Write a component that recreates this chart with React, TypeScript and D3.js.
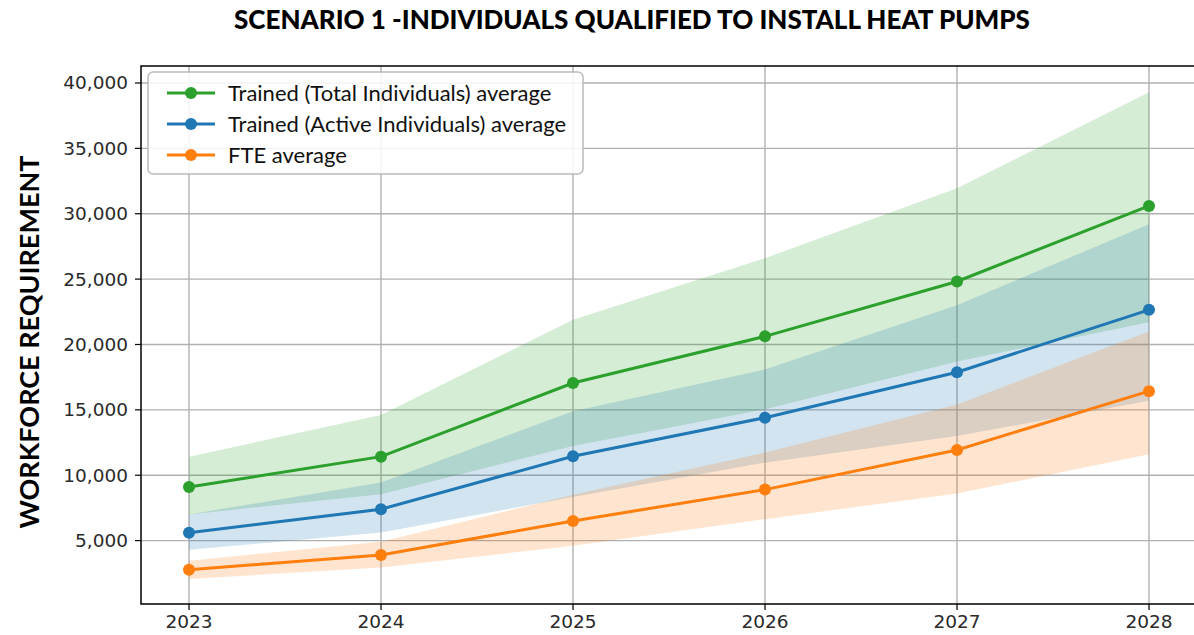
import React, { useRef, useEffect } from "react";
import { select, scaleLinear, line, area, format } from "d3";

// years on the x axis
const years = [2023, 2024, 2025, 2026, 2027, 2028];

// series averages
const totalAvg = [9100, 11420, 17050, 20620, 24820, 30600];
const activeAvg = [5600, 7400, 11450, 14400, 17880, 22650];
const fteAvg = [2770, 3900, 6500, 8900, 11930, 16430];

// band bounds (low / high)
const totalLow = [7000, 8550, 12240, 15040, 18700, 21700];
const totalHigh = [11420, 14600, 21900, 26600, 31950, 39300];
const activeLow = [4300, 5620, 8330, 10960, 13000, 15700];
const activeHigh = [7000, 9440, 14900, 18090, 23000, 29200];
const fteLow = [2060, 2950, 4600, 6640, 8600, 11600];
const fteHigh = [3460, 4910, 8500, 11730, 15400, 21000];

const yTicks = [5000, 10000, 15000, 20000, 25000, 30000, 35000, 40000];

const seriesList = [
  { name: "Trained (Total Individuals) average", color: "#2ca02c", avg: totalAvg, low: totalLow, high: totalHigh },
  { name: "Trained (Active Individuals) average", color: "#1f77b4", avg: activeAvg, low: activeLow, high: activeHigh },
  { name: "FTE average", color: "#ff7f0e", avg: fteAvg, low: fteLow, high: fteHigh },
];

const W = 1194;
const H = 635;

const App = () => {
  const svgRef = useRef<SVGSVGElement>(null);

  useEffect(() => {
    document.body.style.margin = "0";
    const svg = select(svgRef.current);
    svg.selectAll("*").remove();

    //scales
    const xScale = scaleLinear().domain([2022.75, 2028.25]).range([141, 1197]);
    const yScale = scaleLinear().domain([150, 41300]).range([604, 66]);

    const plot = svg.append("g");

    //grid
    plot
      .selectAll(".vgrid")
      .data(years)
      .join("line")
      .attr("x1", (d) => xScale(d))
      .attr("x2", (d) => xScale(d))
      .attr("y1", yScale.range()[1])
      .attr("y2", yScale.range()[0])
      .attr("stroke", "#b0b0b0")
      .attr("stroke-width", 1.4);
    plot
      .selectAll(".hgrid")
      .data(yTicks)
      .join("line")
      .attr("x1", xScale.range()[0])
      .attr("x2", xScale.range()[1])
      .attr("y1", (d) => yScale(d))
      .attr("y2", (d) => yScale(d))
      .attr("stroke", "#b0b0b0")
      .attr("stroke-width", 1.4);

    //bands
    seriesList.forEach((s) => {
      const band = area<number>()
        .x((d, i) => xScale(years[i]))
        .y0((d, i) => yScale(s.low[i]))
        .y1((d) => yScale(d));
      plot
        .append("path")
        .datum(s.high)
        .attr("d", band)
        .attr("fill", s.color)
        .attr("fill-opacity", 0.2);
    });

    //lines + markers
    seriesList.forEach((s) => {
      const myLine = line<number>()
        .x((d, i) => xScale(years[i]))
        .y((d) => yScale(d));
      plot
        .append("path")
        .datum(s.avg)
        .attr("d", myLine)
        .attr("fill", "none")
        .attr("stroke", s.color)
        .attr("stroke-width", 3);
      plot
        .append("g")
        .selectAll("circle")
        .data(s.avg)
        .join("circle")
        .attr("cx", (d, i) => xScale(years[i]))
        .attr("cy", (d) => yScale(d))
        .attr("r", 6)
        .attr("fill", s.color);
    });

    //spines
    const [x0, x1] = xScale.range();
    const [yb, yt] = yScale.range();
    plot
      .append("rect")
      .attr("x", x0)
      .attr("y", yt)
      .attr("width", x1 - x0)
      .attr("height", yb - yt)
      .attr("fill", "none")
      .attr("stroke", "#000")
      .attr("stroke-width", 1.5);

    //y ticks
    const fmt = format(",");
    const yt_g = plot.append("g");
    yt_g
      .selectAll("line")
      .data(yTicks)
      .join("line")
      .attr("x1", x0 - 6)
      .attr("x2", x0)
      .attr("y1", (d) => yScale(d))
      .attr("y2", (d) => yScale(d))
      .attr("stroke", "#000")
      .attr("stroke-width", 1.2);
    yt_g
      .selectAll("text")
      .data(yTicks)
      .join("text")
      .attr("x", x0 - 13)
      .attr("y", (d) => yScale(d))
      .attr("dy", "0.35em")
      .attr("text-anchor", "end")
      .attr("font-family", "DejaVu Sans")
      .attr("font-size", 18.5)
      .attr("fill", "#2a2a2a")
      .text((d) => fmt(d));

    //x ticks
    const xt_g = plot.append("g");
    xt_g
      .selectAll("line")
      .data(years)
      .join("line")
      .attr("x1", (d) => xScale(d))
      .attr("x2", (d) => xScale(d))
      .attr("y1", yb)
      .attr("y2", yb + 6)
      .attr("stroke", "#000")
      .attr("stroke-width", 1.2);
    xt_g
      .selectAll("text")
      .data(years)
      .join("text")
      .attr("x", (d) => xScale(d))
      .attr("y", yb + 24)
      .attr("text-anchor", "middle")
      .attr("font-family", "DejaVu Sans")
      .attr("font-size", 18.5)
      .attr("fill", "#2a2a2a")
      .text((d) => d);

    //legend
    const lg = svg.append("g").attr("transform", "translate(148,72)");
    lg.append("rect")
      .attr("width", 435)
      .attr("height", 102)
      .attr("rx", 5)
      .attr("fill", "#fff")
      .attr("fill-opacity", 0.85)
      .attr("stroke", "#bbbbbb")
      .attr("stroke-width", 1.5);
    seriesList.forEach((s, i) => {
      const cy = 21 + i * 31;
      lg.append("line")
        .attr("x1", 19)
        .attr("x2", 67)
        .attr("y1", cy)
        .attr("y2", cy)
        .attr("stroke", s.color)
        .attr("stroke-width", 3);
      lg.append("circle").attr("cx", 43).attr("cy", cy).attr("r", 6).attr("fill", s.color);
      lg.append("text")
        .attr("x", 80)
        .attr("y", cy)
        .attr("dy", "0.35em")
        .attr("font-family", "Lato")
        .attr("font-size", 22)
        .attr("fill", "#111")
        .text(s.name);
    });

    //title
    svg
      .append("text")
      .attr("x", 632)
      .attr("y", 29)
      .attr("text-anchor", "middle")
      .attr("font-family", "Lato")
      .attr("font-weight", 900)
      .attr("font-size", 26)
      .attr("fill", "#000")
      .text("SCENARIO 1 -INDIVIDUALS QUALIFIED TO INSTALL HEAT PUMPS");

    //y label
    svg
      .append("text")
      .attr("transform", "translate(39,342) rotate(-90)")
      .attr("text-anchor", "middle")
      .attr("font-family", "Lato")
      .attr("font-weight", 700)
      .attr("font-size", 27)
      .attr("fill", "#000")
      .text("WORKFORCE REQUIREMENT");
  }, []);

  return <svg ref={svgRef} width={W} height={H} style={{ display: "block" }} />;
};

export default App;
